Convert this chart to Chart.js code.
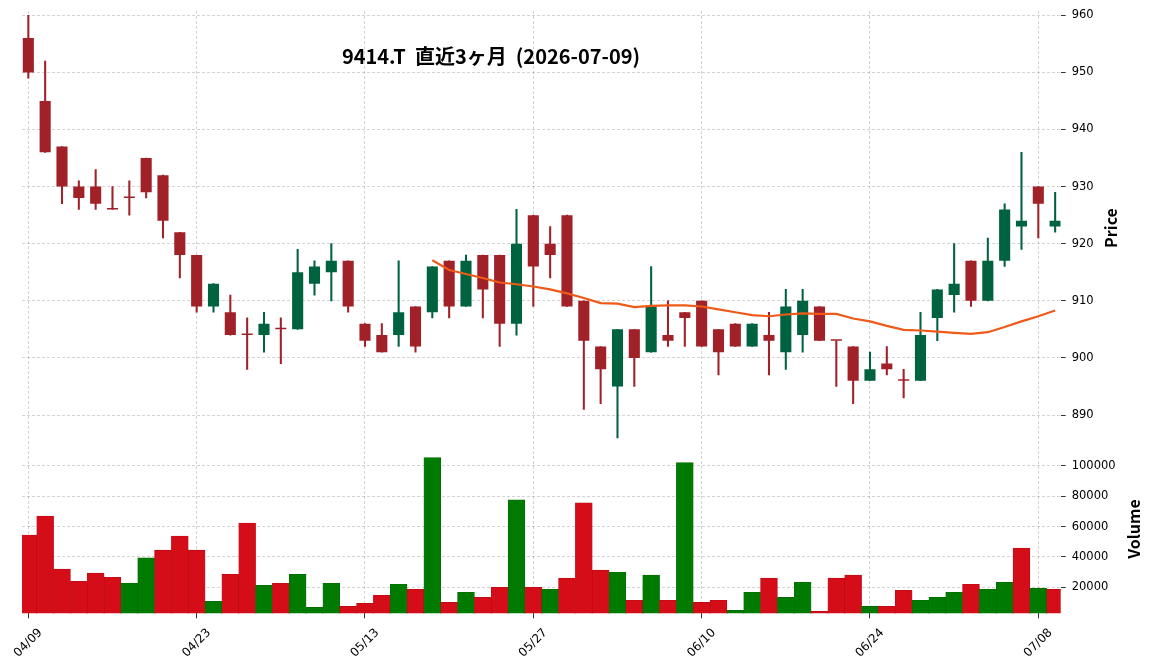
<!DOCTYPE html>
<html>
<head>
<meta charset="utf-8">
<script src="https://cdn.jsdelivr.net/npm/chart.js@4.4.1/dist/chart.umd.min.js"></script>
<style>
body{margin:0;background:#fff;width:1152px;height:671px;overflow:hidden;position:relative}
#cajaPrecio{position:absolute;left:0;top:0}
#cajaVolumen{position:absolute;left:0;top:441px}
</style>
</head>
<body>
<div id="cajaPrecio"><canvas id="precio" width="1152" height="441"></canvas></div>
<div id="cajaVolumen"><canvas id="volumen" width="1152" height="230"></canvas></div>
<script>
// TODO datos (62 sesiones)
const fechas = ["04/09","04/10","04/13","04/14","04/15","04/16","04/17","04/20","04/21","04/22",
  "04/23","04/24","04/27","04/28","04/30","05/01","05/07","05/08","05/11","05/12",
  "05/13","05/14","05/15","05/18","05/19","05/20","05/21","05/22","05/25","05/26",
  "05/27","05/28","05/29","06/01","06/02","06/03","06/04","06/05","06/08","06/09",
  "06/10","06/11","06/12","06/15","06/16","06/17","06/18","06/19","06/22","06/23",
  "06/24","06/25","06/26","06/29","06/30","07/01","07/02","07/03","07/06","07/07",
  "07/08","07/09"];
const aperturas = [956,945,937,930,930,926,928,935,932,922,918,909,908,904,904,905,905,913,915,917,
  906,904,904,909,908,917,909,918,918,906,925,920,925,910,902,895,905,901,904,908,
  910,905,906,902,904,901,904,909,903,902,896,899,896,896,907,911,917,910,917,923,930,923];
const maximos = [960,952,937,931,933,930,931,935,932,922,918,913,911,907,908,907,919,917,920,917,
  906,906,917,909,916,917,918,918,918,926,925,923,925,910,902,905,905,916,910,908,
  910,905,906,906,908,912,912,909,903,902,901,902,898,908,912,920,917,921,927,936,930,929];
const minimos = [949,936,927,926,926,926,925,928,921,914,908,908,904,898,901,899,905,911,910,908,
  902,901,902,901,907,907,909,907,902,904,909,914,909,891,892,886,895,901,902,902,
  902,897,902,902,897,898,901,903,895,892,896,897,893,896,903,908,909,910,916,919,921,922];
const cierres = [950,936,930,928,927,926,928,929,924,918,909,913,904,904,906,905,915,916,917,909,
  903,901,908,902,916,909,917,912,906,920,916,918,909,903,898,905,900,909,903,907,
  902,901,902,906,903,909,910,903,903,896,898,898,896,904,912,913,910,917,926,924,927,924];
const volumenes = [54500,67000,32000,24000,29300,26600,22650,39450,44500,53800,
  44500,10700,28600,62400,21300,22650,28600,6740,22650,7400,
  9400,14700,22000,18700,105500,10050,16700,13370,20000,77700,
  20000,18700,26000,75700,31300,29950,11400,28000,11400,102200,
  10050,11400,4750,16700,26000,13370,23300,4100,26000,28000,
  7400,7400,18000,11400,13370,16700,22000,18700,23300,45900,19300,18700];
const media25 = [null,null,null,null,null,null,null,null,null,null,null,null,null,null,null,null,null,null,null,null,null,null,null,null,
  917.1,915.4,914.7,914.0,913.2,912.9,912.5,912.0,911.3,910.5,909.6,909.5,908.9,909.1,909.2,909.2,
  909.0,908.5,908.0,907.5,907.3,907.6,907.8,907.7,907.7,906.9,906.4,905.6,904.9,904.8,904.6,904.4,
  904.2,904.5,905.4,906.4,907.3,908.3];
const ticksFecha = [0,10,20,30,40,50,60];
const etiquetasFecha = ["04/09","04/23","05/13","05/27","06/10","06/24","07/08"];
const ticksPrecio = [890,900,910,920,930,940,950,960];
const ticksVolumen = [20000,40000,60000,80000,100000];
const tituloGrafico = "9414.T  直近3ヶ月  (2026-07-09)";

//! colores estilo charles
const velaSube = "#006340", velaBaja = "#a02128";
const volSube = "#007a00", volBaja = "#d50d18";
const colorGrilla = "rgba(0,0,0,0.22)";

const coloresVela = cierres.map((c, i) => c > aperturas[i] ? velaSube : velaBaja);
const coloresVol = cierres.map((c, i) => {
    const previo = i == 0 ? aperturas[0] : cierres[i - 1];
    return c > previo ? volSube : volBaja;
});
const bordesVol = coloresVol.map(c => c == volSube ? "#006a00" : "#b40a14");

const cuerpos = aperturas.map((o, i) => ({x: i, y: [o, cierres[i]]}));
const mechas = minimos.map((l, i) => ({x: i, y: [l, maximos[i]]}));
const lineaMedia = media25.map((v, i) => ({x: i, y: v}));
const barrasVol = volumenes.map((v, i) => ({x: i, y: v}));

const ejeX = (alto, conMarcas) => ({
    type: "linear", min: -0.376, max: 61.33, offset: false,
    afterBuildTicks: s => { s.ticks = ticksFecha.map(v => ({value: v})); },
    afterFit: s => { s.height = alto; s.paddingLeft = 0; s.paddingRight = 0; },
    ticks: {display: false},
    grid: {offset: false, color: colorGrilla, lineWidth: 0.8, drawTicks: conMarcas, tickLength: 5, tickColor: "#333", tickWidth: 1},
    border: {display: false, dash: [3, 2]}
});

const ejeY = (min, max, marcas) => ({
    position: "right", min: min, max: max,
    afterBuildTicks: s => { s.ticks = marcas.map(v => ({value: v})); },
    afterFit: s => { s.width = 91.3; s.paddingTop = 0; s.paddingBottom = 0; },
    ticks: {color: "#000", padding: 6, font: {family: "DejaVu Sans", size: 11.5}, callback: v => String(v)},
    grid: {color: colorGrilla, lineWidth: 0.8, tickLength: 5, tickColor: "#333", tickWidth: 1},
    border: {display: false, dash: [3, 2]}
});

const textosPrecio = {
    id: "textosPrecio",
    afterDraw(chart) {
        const ctx = chart.ctx;
        ctx.save();
        ctx.fillStyle = "#000";
        ctx.textAlign = "center";
        ctx.textBaseline = "middle";
        ctx.font = 'bold 20px "Noto Sans CJK JP"';
        ctx.fillText(tituloGrafico, 491, 56);
        ctx.translate(1111, 228);
        ctx.rotate(-Math.PI / 2);
        ctx.font = 'bold 16px "Noto Sans CJK JP"';
        ctx.fillText("Price", 0, 0);
        ctx.restore();
    }
};

const textosVolumen = {
    id: "textosVolumen",
    afterDraw(chart) {
        const ctx = chart.ctx;
        const escalaX = chart.scales.x;
        ctx.save();
        ctx.fillStyle = "#000";
        ctx.textAlign = "center";
        ctx.textBaseline = "middle";
        ctx.font = '12px "DejaVu Sans"';
        ticksFecha.forEach((idx, k) => {
            ctx.save();
            ctx.translate(escalaX.getPixelForValue(idx), 202);
            ctx.rotate(-Math.PI / 4);
            ctx.fillText(etiquetasFecha[k], 0, 0);
            ctx.restore();
        });
        ctx.translate(1134, 88);
        ctx.rotate(-Math.PI / 2);
        ctx.font = 'bold 16px "Noto Sans CJK JP"';
        ctx.fillText("Volume", 0, 0);
        ctx.restore();
    }
};

new Chart(document.getElementById("precio"), {
    type: "bar",
    data: {
        datasets: [
            {type: "line", data: lineaMedia, borderColor: "#ef5a19", borderWidth: 2.2, pointRadius: 0, order: 0},
            {data: cuerpos, backgroundColor: coloresVela, borderWidth: 0, barPercentage: 0.66, categoryPercentage: 1,
             grouped: false, minBarLength: 1.5, order: 1},
            {data: mechas, backgroundColor: coloresVela, borderWidth: 0, barThickness: 1.4, grouped: false, order: 2}
        ]
    },
    options: {
        responsive: false, animation: false,
        layout: {padding: {left: 22, top: 11, right: 0, bottom: 0}},
        plugins: {legend: {display: false}, tooltip: {enabled: false}},
        scales: {x: ejeX(0, false), y: ejeY(885.45, 960.75, ticksPrecio)}
    },
    plugins: [textosPrecio]
});

new Chart(document.getElementById("volumen"), {
    type: "bar",
    data: {
        datasets: [
            {data: barrasVol, backgroundColor: coloresVol, borderColor: bordesVol, borderWidth: 0.6,
             barPercentage: 1, categoryPercentage: 1, clip: 0}
        ]
    },
    options: {
        responsive: false, animation: false,
        layout: {padding: {left: 22, top: 0, right: 0, bottom: 0}},
        plugins: {legend: {display: false}, tooltip: {enabled: false}},
        scales: {x: ejeX(57.7, true), y: ejeY(2855, 116486, ticksVolumen)}
    },
    plugins: [textosVolumen]
});
</script>
</body>
</html>
